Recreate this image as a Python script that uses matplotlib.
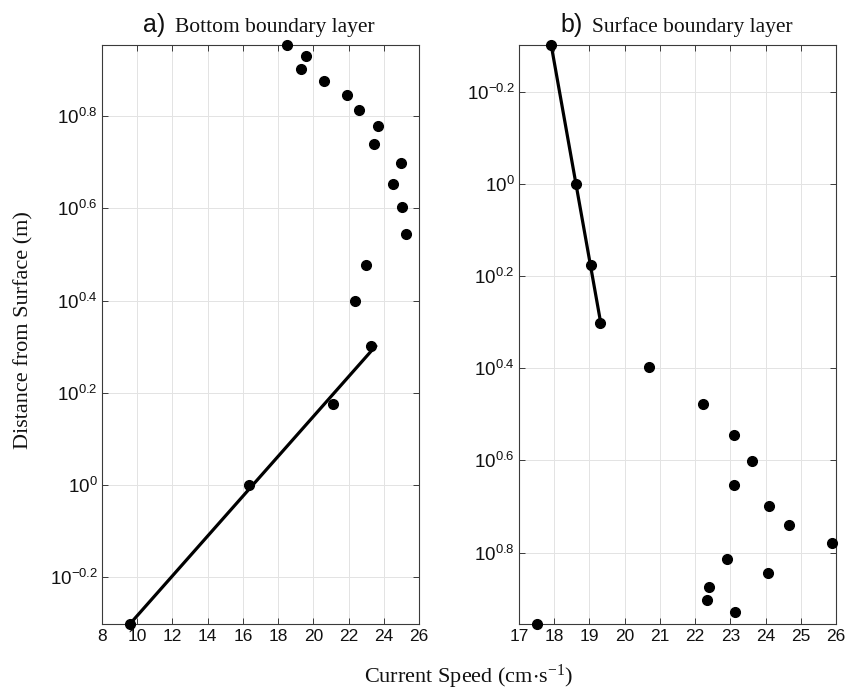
import numpy as np
import matplotlib
matplotlib.use("Agg")
import matplotlib.pyplot as plt
from matplotlib.ticker import FixedLocator, FixedFormatter, NullLocator

plt.rcParams['font.family'] = ['Liberation Sans', 'DejaVu Sans']
plt.rcParams['mathtext.default'] = 'regular'

# depth of each bin (m), shared by both profiles
depth = [0.5, 1.0, 1.5, 2.0, 2.5, 3.0, 3.5, 4.0, 4.5,
         5.0, 5.5, 6.0, 6.5, 7.0, 7.5, 8.0, 8.5, 9.0]

# current speed (cm/s) per depth bin
speed_bottom = [9.61, 16.35, 21.11, 23.27, 22.38, 22.98, 25.27, 25.06, 24.51,
                24.97, 23.42, 23.68, 22.62, 21.92, 20.61, 19.31, 19.57, 18.53]
speed_surface = [17.91, 18.61, 19.05, 19.30, 20.68, 22.22, 23.09, 23.62, 23.11,
                 24.11, 24.67, 25.88, 22.89, 24.08, 22.40, 22.33, 23.14, 17.50]

n_fit = 4  # log-layer fit uses the first four bins
ytick_exp = [-0.2, 0, 0.2, 0.4, 0.6, 0.8]
ytick_lab = [r'$10^{%g}$' % e for e in ytick_exp]

fig = plt.figure(figsize=(8.47, 6.91), dpi=100)
ax1 = fig.add_axes([0.1204, 0.0974, 0.3743, 0.8375])
ax2 = fig.add_axes([0.6128, 0.0974, 0.3743, 0.8375])

panels = [
    (ax1, speed_bottom, (8, 26), np.arange(8, 27, 2), False, 'a)', 'Bottom boundary layer'),
    (ax2, speed_surface, (17, 26), np.arange(17, 27, 1), True, 'b)', 'Surface boundary layer'),
]

for ax, spd, xlim, xticks, flip, tag, name in panels:
    z = np.array(depth)
    u = np.array(spd)

    # law-of-the-wall style fit: u = a + b*log10(z)
    b, a = np.polyfit(np.log10(z[:n_fit]), u[:n_fit], 1)
    zz = np.array([z[0], z[n_fit - 1]])
    ax.plot(a + b * np.log10(zz), zz, color='black', lw=2.3, zorder=3)

    ax.plot(u, z, 'o', color='black', ms=7, clip_on=False, zorder=4)

    ax.set_yscale('log')
    ax.set_xlim(*xlim)
    if flip:
        ax.set_ylim(9, 0.5)
    else:
        ax.set_ylim(0.5, 9)
    ax.set_xticks(xticks)
    ax.yaxis.set_major_locator(FixedLocator([10 ** e for e in ytick_exp]))
    ax.yaxis.set_major_formatter(FixedFormatter(ytick_lab))
    ax.yaxis.set_minor_locator(NullLocator())

    ax.grid(True, color='#e3e3e3', lw=0.7)
    ax.set_axisbelow(True)
    for s in ax.spines.values():
        s.set_color('#3a3a3a')
        s.set_linewidth(0.8)
    ax.tick_params(direction='in', length=4, width=0.7, color='#3a3a3a',
                   top=True, right=True, labelcolor='#111111')
    ax.tick_params(axis='x', pad=4, labelsize=12.5)
    ax.tick_params(axis='y', pad=3, labelsize=13.5)

    ax.text(0.2, 1.023, tag, transform=ax.transAxes, ha='right', va='baseline',
            fontsize=18, color='#111111')
    ax.text(0.23, 1.023, name, transform=ax.transAxes, ha='left', va='baseline',
            fontsize=15.5, family='Liberation Serif', color='#111111')

fig.text(0.5525, 0.012, r'Current Speed (cm$\cdot$s$^{-1}$)', ha='center', va='baseline',
         fontsize=16, family='Liberation Serif', color='#111111')
fig.text(0.028, 0.5224, 'Distance from Surface (m)', rotation=90, ha='center', va='center',
         fontsize=16, family='Liberation Serif', color='#111111')

fig.savefig('out.png', dpi=100)
